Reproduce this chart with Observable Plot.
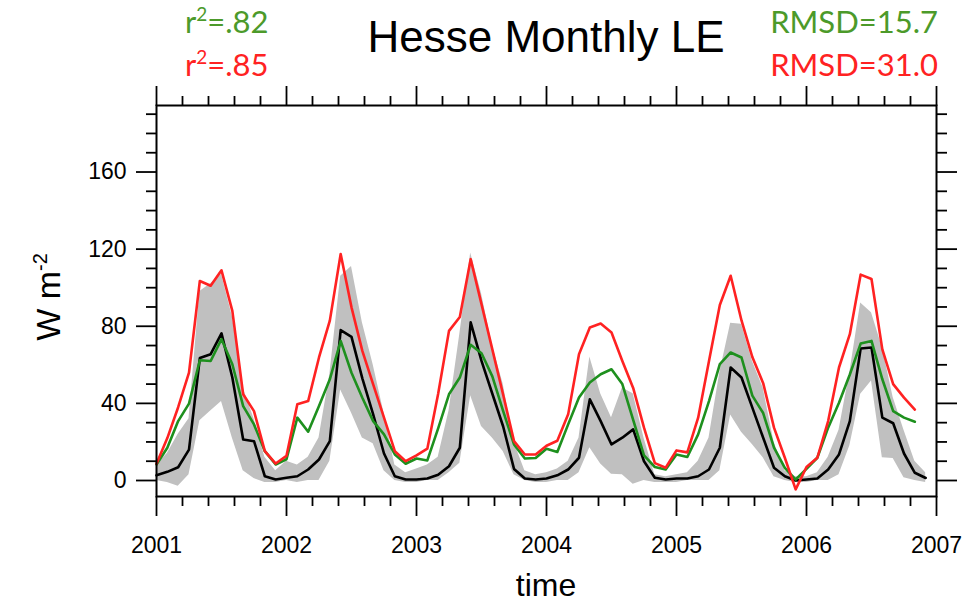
<!DOCTYPE html>
<html><head><meta charset="utf-8">
<script src="https://cdn.jsdelivr.net/npm/d3@7"></script>
<script src="https://cdn.jsdelivr.net/npm/@observablehq/plot@0.6"></script>
<style>body{margin:0;background:#fff} svg{display:block}</style>
</head><body><div id="chart"></div>
<script>
// ---- data (monthly, Jan 2001 onward) ----
const startYear = 2001;
const obsLE = [
  2.7, 4.5, 6.9, 16, 63.5, 65.5, 76.3, 53.4, 21.3, 20.4, 2.2, 0.5,
  1.4, 2.2, 5.7, 10.9, 20.4, 78, 74.5, 53, 34.3, 14, 2.2, 0.5,
  0.5, 1, 3, 7.4, 17, 82, 62, 45, 28, 6, 1, 0.5,
  1, 2.7, 5.7, 11.8, 42.1, 30.8, 18.7, 22.2, 26.5, 10, 1.4, 0.5,
  1, 1, 2.2, 5.7, 17, 58.6, 53.4, 37.8, 22.2, 6.6, 2.2, 0,
  0.5, 1, 5.7, 13.5, 30.8, 68.5, 69, 32.6, 29.7, 14, 4, 1.3
];
const modelGreen = [
  8.3, 17, 30.8, 39.9, 62.4, 62, 73.3, 60.3, 38.6, 29.1, 15.2, 8.3,
  11, 32.6, 25.3, 38.6, 52.5, 72.4, 55.9, 42.9, 30.8, 23.9, 13.5, 8.7,
  11.4, 10.4, 27, 44.7, 53.4, 70.4, 66, 54, 36, 18.7, 11.4, 11.7,
  16.5, 14.8, 29.1, 43, 50.8, 55.1, 57.7, 50, 31.5, 13, 7, 5.7,
  13.5, 12.2, 23.9, 41.2, 60.3, 66.4, 63.8, 44, 35, 17, 6.6, 0.5,
  6, 11.8, 27.4, 40.3, 55, 71, 72.4, 52.5, 36, 32.6, 30.5
];
const modelRed = [
  8.7, 22, 38, 56, 103.5, 101, 109, 88, 44.7, 36, 15.2, 8.8,
  12.8, 39.5, 41.2, 63.8, 82.9, 117.5, 89.8, 67.2, 49.9, 32.6, 15.2, 10,
  13, 16.5, 45, 77.6, 84.8, 114.8, 91.5, 68, 44.5, 20.4, 13.5, 13.5,
  18, 20.6, 34.3, 65.5, 79.4, 81.4, 76.8, 62, 48, 27.4, 9, 6.6,
  15.6, 14.6, 32.6, 62, 91, 106.2, 83, 64, 50.5, 27.4, 11.8, -4.6,
  7, 11.8, 30.8, 58.6, 75.9, 106.8, 104.5, 68, 50, 43, 36.8
];
const rangeLow = [
  0, -1, -3, 3, 31, 36, 41, 22, 5, 1, -1, -1,
  0, -1, 0, 0, 10, 47, 35, 22, 19, 5, 0, -1,
  -1, 0, 0, 4, 9, 44, 28, 22, 15, 3, 0, -1,
  -1, 0, 0, 4, 17, 8.5, 3.3, 3, -2, 0, -1, -1,
  -1, 0, 0, 0, 5, 34, 25, 18.7, 11.8, 2, 0, -1,
  -1, 0, 0, 3, 18, 44.7, 51.6, 11.8, 11.4, 1.4, 0, -1
];
const rangeHigh = [
  8, 14, 24, 32, 98, 102, 107, 85, 48, 32, 12, 5,
  10, 8, 12, 22, 55, 106, 111, 82, 60, 35, 8, 4,
  6, 8, 12, 36, 76, 118, 97, 70, 50, 20, 5, 3,
  4, 6, 10, 22, 64, 45, 32.6, 48, 45, 22, 3, 2,
  3, 4, 10, 22, 56, 81.5, 81, 62, 48, 20, 5, 2,
  2, 4, 12, 26, 56, 92, 87, 69, 43, 26, 10, 4
];
const yearTicks = [2001, 2002, 2003, 2004, 2005, 2006, 2007];
const yMajorTicks = [0, 40, 80, 120, 160];
const yMinorTicks = [10, 20, 30, 50, 60, 70, 90, 100, 110, 130, 140, 150, 170, 180, 190];
const titleText = "Hesse Monthly LE";
const r2Values = [".82", ".85"];
const rmsdValues = ["15.7", "31.0"];
const seriesColors = ["#1e901e", "#ff2222"];
const statColors = ["#4c9a2a", "#ff2222"];

// ---- build tables ----
const tOf = i => startYear + i / 12;
const obsRows = obsLE.map((v, i) => ({t: tOf(i), v, lo: rangeLow[i], hi: rangeHigh[i]}));
const greenRows = modelGreen.map((v, i) => ({t: tOf(i), v}));
const redRows = modelRed.map((v, i) => ({t: tOf(i), v}));
const xMinorTicks = d3.range(0, 31).filter(k => k % 5 !== 0).map(k => (startYear * 5 + k) / 5);

const tickW = 1.8;
const chart = Plot.plot({
  width: 979, height: 605,
  marginLeft: 156, marginRight: 43, marginTop: 105, marginBottom: 109,
  x: {domain: [2001, 2007]},
  y: {domain: [-8.3, 194.5]},
  style: {fontFamily: "'Liberation Sans', Arial, sans-serif", fontSize: "23px", color: "black", background: "white"},
  marks: [
    Plot.areaY(obsRows, {x: "t", y1: "lo", y2: "hi", fill: "#c0c0c0"}),
    Plot.lineY(obsRows, {x: "t", y: "v", stroke: "black", strokeWidth: 2.6}),
    Plot.lineY(greenRows, {x: "t", y: "v", stroke: seriesColors[0], strokeWidth: 2.6}),
    Plot.lineY(redRows, {x: "t", y: "v", stroke: seriesColors[1], strokeWidth: 2.6}),
    Plot.frame({stroke: "black", strokeWidth: 2}),
    Plot.axisX({ticks: yearTicks, tickSize: 20, tickPadding: 20, tickFormat: "d", label: null, strokeWidth: tickW, fontSize: 23}),
    Plot.axisX({ticks: xMinorTicks, tickSize: 10, fill: "none", label: null, strokeWidth: tickW}),
    Plot.axisX({anchor: "top", ticks: yearTicks, tickSize: 20, fill: "none", label: null, strokeWidth: tickW}),
    Plot.axisX({anchor: "top", ticks: xMinorTicks, tickSize: 10, fill: "none", label: null, strokeWidth: tickW}),
    Plot.axisY({ticks: yMajorTicks, tickSize: 20, tickPadding: 10, label: null, strokeWidth: tickW, fontSize: 23}),
    Plot.axisY({ticks: yMinorTicks, tickSize: 10, fill: "none", label: null, strokeWidth: tickW}),
    Plot.axisY({anchor: "right", ticks: yMajorTicks, tickSize: 20, fill: "none", label: null, strokeWidth: tickW}),
    Plot.axisY({anchor: "right", ticks: yMinorTicks, tickSize: 10, fill: "none", label: null, strokeWidth: tickW})
  ]
});
document.getElementById("chart").appendChild(chart);

// ---- titles and annotations ----
const svg = d3.select(chart);
const cx = 546;
svg.append("text").attr("x", cx).attr("y", 52).attr("text-anchor", "middle")
  .style("font-family", "'Liberation Sans', Arial, sans-serif").style("font-size", "44px").attr("fill", "black")
  .text(titleText);
svg.append("text").attr("x", cx).attr("y", 596).attr("text-anchor", "middle")
  .style("font-family", "'Liberation Sans', Arial, sans-serif").style("font-size", "32px").attr("fill", "black")
  .text("time");
const yl = svg.append("text").attr("transform", "translate(60,297) rotate(-90)").attr("text-anchor", "middle")
  .style("font-family", "'Liberation Sans', Arial, sans-serif").style("font-size", "34px").attr("fill", "black");
yl.append("tspan").text("W m");
yl.append("tspan").attr("dy", -13).style("font-size", "20px").text("-2");

const statFont = "Lato, 'Open Sans', sans-serif";
[0, 1].forEach(i => {
  const base = 33 + i * 43;
  const t = svg.append("text").attr("x", 185).attr("y", base).attr("text-anchor", "start")
    .style("font-family", statFont).style("font-size", "31px").attr("fill", statColors[i]);
  t.append("tspan").text("r");
  t.append("tspan").attr("dy", -12).style("font-size", "19px").text("2");
  t.append("tspan").attr("dy", 12).text("=" + r2Values[i]);
  svg.append("text").attr("x", 938).attr("y", base).attr("text-anchor", "end")
    .style("font-family", statFont).style("font-size", "31px").attr("fill", statColors[i])
    .text("RMSD=" + rmsdValues[i]);
});
</script></body></html>
